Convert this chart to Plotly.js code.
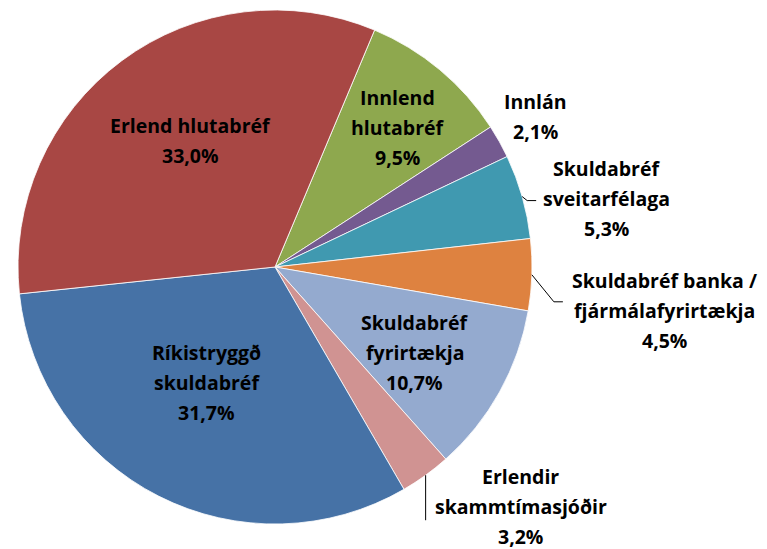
<!DOCTYPE html>
<html>
<head>
<meta charset="utf-8">
<script src="https://cdn.plot.ly/plotly-3.0.1.min.js"></script>
<style>html,body{margin:0;padding:0;background:#fff;}#chart{width:767px;height:549px;}</style>
</head>
<body>
<div id="chart"></div>
<script>
// ---- data ----
const labels = ['Innlend hlutabréf', 'Innlán', 'Skuldabréf sveitarfélaga', 'Skuldabréf banka / fjármálafyrirtækja', 'Skuldabréf fyrirtækja', 'Erlendir skammtímasjóðir', 'Ríkistryggð skuldabréf', 'Erlend hlutabréf'];
const values = [9.5, 2.1, 5.3, 4.5, 10.7, 3.2, 31.7, 33.0];
const labelLines = [['Innlend', 'hlutabréf'], ['Innlán'], ['Skuldabréf', 'sveitarfélaga'], ['Skuldabréf banka /', 'fjármálafyrirtækja'], ['Skuldabréf', 'fyrirtækja'], ['Erlendir', 'skammtímasjóðir'], ['Ríkistryggð', 'skuldabréf'], ['Erlend hlutabréf']];

// ---- style ----
const colors = ['#8EA84E', '#745A90', '#4099B0', '#DE8240', '#94AACF', '#D09392', '#4672A6', '#A84744'];
const W = 767, H = 549;
const cx = 275, cy = 267, R = 257;
const rotation = 22.8;
const lineGap = 30;
// label placement: radius factor and angle offset (deg) from slice mid-angle
const labelPos = [
  {r: 0.723, da: 1.5}, {r: 1.171, da: -0.8}, {r: 1.318, da: 4.3}, {r: 1.525, da: 4.6},
  {r: 0.637, da: 2.2}, {r: 1.334, da: -9.9}, {r: 0.521, da: 3.8}, {r: 0.590, da: 2.8}
];
// leader lines: pixel offsets from slice edge at mid-angle
const leaders = {2: [[5, 4], [14, 4]], 3: [[22, 27], [31, 27]], 5: [[0, 45]]};

const px = x => x / W;
const py = y => 1 - y / H;

const total = values.reduce((a, b) => a + b, 0);
const annotations = [];
const shapes = [];
let start = rotation;
values.forEach((v, i) => {
  const span = v / total * 360;
  const mid = start + span / 2;
  start += span;
  const lp = labelPos[i];
  const a = (mid + lp.da) * Math.PI / 180;
  const lx = cx + lp.r * R * Math.sin(a);
  const ly = cy - lp.r * R * Math.cos(a);
  const lines = labelLines[i].concat([v.toFixed(1).replace('.', ',') + '%']);
  lines.forEach((t, k) => {
    const off = (k - (lines.length - 1) / 2) * lineGap;
    annotations.push({
      x: px(lx), y: py(ly + off), xref: 'paper', yref: 'paper',
      xanchor: 'center', yanchor: 'middle', showarrow: false, text: t,
      font: {family: '"Open Sans", "Noto Sans", sans-serif', size: 19.5, color: '#000', weight: 'bold'}
    });
  });
  if (leaders[i]) {
    const am = mid * Math.PI / 180;
    const sx = cx + R * Math.sin(am), sy = cy - R * Math.cos(am);
    let path = 'M ' + px(sx) + ' ' + py(sy);
    leaders[i].forEach(p => { path += ' L ' + px(sx + p[0]) + ' ' + py(sy + p[1]); });
    shapes.push({type: 'path', xref: 'paper', yref: 'paper', path: path, line: {color: '#000', width: 1}});
  }
});

const trace = {
  type: 'pie', labels: labels, values: values, sort: false, direction: 'clockwise',
  rotation: rotation, textinfo: 'none', hoverinfo: 'label+percent',
  marker: {colors: colors, line: {color: '#ffffff', width: 0.8}},
  domain: {x: [px(cx - R), px(cx + R)], y: [py(cy + R), py(cy - R)]},
  showlegend: false
};

Plotly.newPlot('chart', [trace], {
  width: W, height: H, margin: {l: 0, r: 0, t: 0, b: 0},
  paper_bgcolor: '#fff', showlegend: false,
  annotations: annotations, shapes: shapes
}, {displayModeBar: false, staticPlot: true});
</script>
</body>
</html>
